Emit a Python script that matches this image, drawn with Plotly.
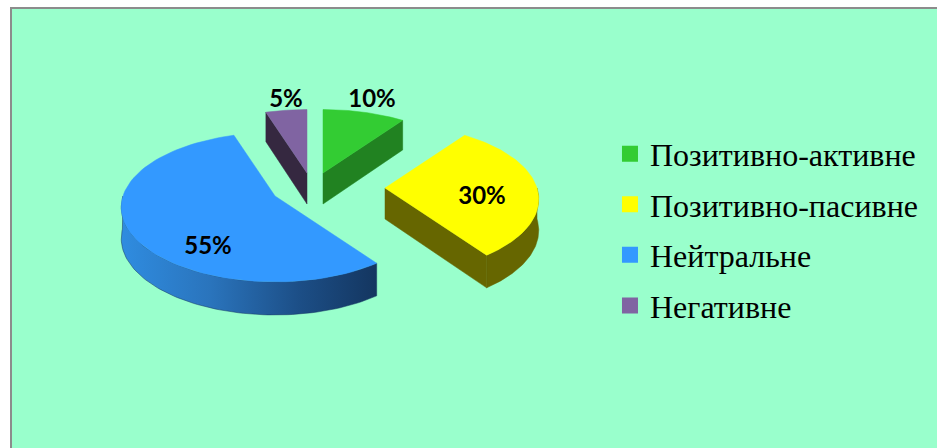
import numpy as np
import plotly.graph_objects as go

# Data
categories = ["Позитивно-активне", "Позитивно-пасивне", "Нейтральне", "Негативне"]
values = [10, 30, 55, 5]

# Style and layout of the exploded 3D pie
top_colors = ["#33CC33", "#FFFF00", "#3399FF", "#8064A2"]
side_colors = ["#218221", "#666600", None, "#352840"]
apex_px = [(323, 173), (385, 188), (275, 196), (307, 173)]
label_px = [(372, 101), (482, 198), (208, 248), (286, 101)]
RX, RY, PERSP, DEPTH = 152, 73, 0.15, 31


def project(apex, theta_deg, r=1.0, depth=0.0):
    t = np.radians(theta_deg)
    X, Y = r * np.sin(t), r * np.cos(t)
    s = 1 / (1 + PERSP * Y)
    return apex[0] + RX * X * s, apex[1] - RY * Y * s + depth * s ** 0.4


def arc(apex, a0, a1, depth=0.0):
    th = np.linspace(a0, a1, 80)
    return project(apex, th, 1.0, depth)


def poly(fig, x, y, color=None, gradient=None):
    kw = dict(x=list(x), y=list(y), mode="lines", fill="toself",
              line=dict(width=0.5, color=color or "#143660"),
              showlegend=False, hoverinfo="skip")
    if gradient:
        kw["fillgradient"] = gradient
    else:
        kw["fillcolor"] = color
    fig.add_trace(go.Scatter(**kw))


fig = go.Figure()

edges = np.cumsum([0] + values) / sum(values) * 360
blue_grad = dict(type="horizontal",
                 colorscale=[[0, "#2F8CE0"], [0.35, "#2A74BC"], [0.7, "#1C4E86"], [1, "#143660"]])

for i, (name, val) in enumerate(zip(categories, values)):
    a0, a1 = edges[i], edges[i + 1]
    apex = apex_px[i]

    # visible outer wall: the part of the arc that faces the viewer (90..270 deg)
    lo, hi = max(a0, 90), min(a1, 270)
    if hi > lo:
        tx, ty = arc(apex, lo, hi)
        bx, by = arc(apex, hi, lo, DEPTH)
        poly(fig, np.r_[tx, bx, tx[0]], np.r_[ty, by, ty[0]],
             side_colors[i], blue_grad if side_colors[i] is None else None)

    # visible radial cut wall
    if i != 2:
        cut = a1 if a1 < 180 else a0
        ex, ey = project(apex, cut)
        ex2, ey2 = project(apex, cut, 1.0, DEPTH)
        ax2, ay2 = project(apex, 0, 0.0, DEPTH)
        poly(fig, [apex[0], ex, ex2, ax2, apex[0]], [apex[1], ey, ey2, ay2, apex[1]], side_colors[i])

    # top face
    tx, ty = arc(apex, a0, a1)
    poly(fig, np.r_[apex[0], tx, apex[0]], np.r_[apex[1], ty, apex[1]], top_colors[i])

# Value labels
fig.add_trace(go.Scatter(
    x=[p[0] for p in label_px], y=[p[1] for p in label_px],
    mode="text", text=[f"<b>{v}%</b>" for v in values],
    textposition="middle center",
    textfont=dict(family="Lato", size=24, color="#000000"),
    showlegend=False, hoverinfo="skip"))

# Legend entries
for i, name in enumerate(categories):
    fig.add_trace(go.Scatter(
        x=[None], y=[None], mode="markers", name=name, legendgroup=name,
        marker=dict(symbol="square", size=16, color=top_colors[i])))

fig.update_layout(
    width=937, height=448, autosize=False,
    margin=dict(l=0, r=0, t=0, b=0),
    paper_bgcolor="#FFFFFF", plot_bgcolor="#FFFFFF",
    xaxis=dict(range=[0, 937], visible=False, fixedrange=True),
    yaxis=dict(range=[448, 0], visible=False, fixedrange=True),
    shapes=[dict(type="rect", xref="x", yref="y", x0=11, y0=8, x1=960, y1=470,
                 fillcolor="#99FFCC", line=dict(color="#8C8C8C", width=2), layer="below")],
    legend=dict(x=0.651, y=0.718, xanchor="left", yanchor="top",
                bgcolor="rgba(0,0,0,0)", tracegroupgap=6, itemwidth=30,
                font=dict(family="Liberation Serif", size=32, color="#000000")),
)

fig.write_html("out.html", config={"displayModeBar": False},
               post_script="document.body.style.margin='0';document.body.style.overflow='hidden';")
